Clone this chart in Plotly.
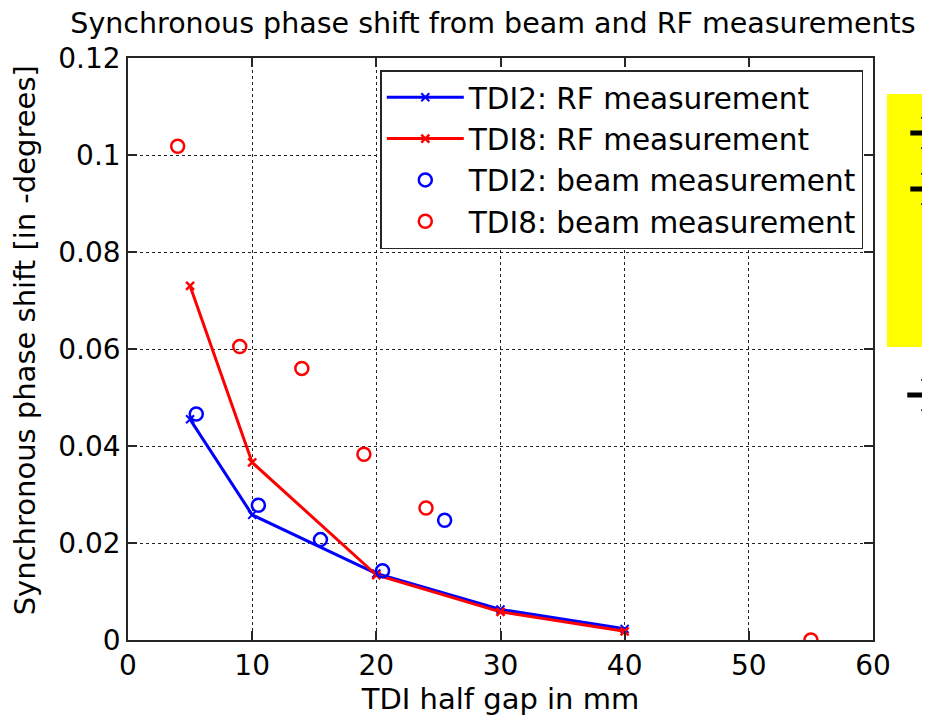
import plotly.graph_objects as go

# Data
rf_gap = [5, 10, 20, 30, 40]
tdi2_rf = [0.0455, 0.0258, 0.0137, 0.0063, 0.0023]
tdi8_rf = [0.0730, 0.0366, 0.0134, 0.0058, 0.0018]

tdi2_beam_gap = [5.5, 10.5, 15.5, 20.5, 25.5]
tdi2_beam = [0.0466, 0.0278, 0.0207, 0.0143, 0.0247]

tdi8_beam_gap = [4, 9, 14, 19, 24, 55]
tdi8_beam = [0.1018, 0.0605, 0.0560, 0.0383, 0.0272, 0.0]

x_ticks = [0, 10, 20, 30, 40, 50, 60]
y_ticks = [0, 0.02, 0.04, 0.06, 0.08, 0.1, 0.12]
y_ticklabels = ["0", "0.02", "0.04", "0.06", "0.08", "0.1", "0.12"]

FONT = "DejaVu Sans, sans-serif"
OFF = 8  # page body margin in the browser
W, H = 930 - OFF, 718 - OFF
L, R, T, B = 127.7 - OFF, 872.7 - OFF, 58 - OFF, 640 - OFF


def px(x):
    # screen pixel -> paper fraction
    return (x - OFF - L) / (R - L)


def py(y):
    return (B - (y - OFF)) / (B - T)


fig = go.Figure()
fig.add_trace(go.Scatter(x=rf_gap, y=tdi2_rf, mode="lines+markers",
                         name="TDI2: RF measurement",
                         line=dict(color="#0000ff", width=3),
                         marker=dict(symbol="x-thin", size=8, line=dict(color="#0000ff", width=2))))
fig.add_trace(go.Scatter(x=rf_gap, y=tdi8_rf, mode="lines+markers",
                         name="TDI8: RF measurement",
                         line=dict(color="#ff0000", width=3),
                         marker=dict(symbol="x-thin", size=8, line=dict(color="#ff0000", width=2.5))))
fig.add_trace(go.Scatter(x=tdi2_beam_gap, y=tdi2_beam, mode="markers",
                         name="TDI2: beam measurement",
                         marker=dict(symbol="circle-open", size=13, color="#0000ff", line=dict(width=2.5))))
fig.add_trace(go.Scatter(x=tdi8_beam_gap, y=tdi8_beam, mode="markers",
                         name="TDI8: beam measurement",
                         marker=dict(symbol="circle-open", size=13, color="#ff0000", line=dict(width=2.5))))

axis_common = dict(showline=True, linecolor="#262626", linewidth=1.5, mirror="ticks",
                   ticks="inside", ticklen=9, tickcolor="#262626", tickwidth=1.5,
                   showgrid=True, gridcolor="#222222", griddash="dot", gridwidth=1,
                   zeroline=False, tickfont=dict(size=28, color="black", family=FONT))

fig.update_xaxes(range=[0, 60], tickvals=x_ticks,
                 title=dict(text="TDI half gap in mm", font=dict(size=29, color="black", family=FONT), standoff=4),
                 **axis_common)
fig.update_yaxes(range=[0, 0.12], tickvals=y_ticks, ticktext=y_ticklabels, **axis_common)

# y-axis title placed as a rotated annotation
fig.add_annotation(xref="paper", yref="paper", x=px(25), y=py(340),
                   text="Synchronous phase shift [in -degrees]", textangle=-90,
                   showarrow=False, xanchor="center", yanchor="middle",
                   font=dict(size=29, color="black", family=FONT))

# yellow note box partly outside the frame
fig.add_shape(type="rect", xref="paper", yref="paper",
              x0=px(886.7), x1=px(945), y0=py(347), y1=py(94),
              fillcolor="#ffff00", line=dict(width=0), layer="below")

# arrows (cropped at the right edge)
arrows = [(910, 133, 116, 150), (910, 189, 172, 206), (907, 395, 378, 412)]
for x0, yc, ytop, ybot in arrows:
    fig.add_shape(type="line", xref="paper", yref="paper",
                  x0=px(x0), x1=px(945), y0=py(yc), y1=py(yc),
                  line=dict(color="black", width=5))
    fig.add_shape(type="path", xref="paper", yref="paper",
                  path=f"M{px(922)},{py(ytop)} L{px(945)},{py(yc)} L{px(922)},{py(ybot)}",
                  line=dict(color="black", width=5))

fig.update_layout(
    width=W, height=H,
    margin=dict(l=L, r=W - R, t=T, b=H - B),
    paper_bgcolor="white", plot_bgcolor="white",
    font=dict(family=FONT, color="black"),
    title=dict(text="Synchronous phase shift from beam and RF measurements",
               x=(493 - OFF) / W, xanchor="center", y=1 - (23 - OFF) / H, yanchor="middle",
               font=dict(size=28.5, color="black", family=FONT)),
    showlegend=True,
    legend=dict(x=px(380), y=py(70), xanchor="left", yanchor="top",
                bgcolor="white", bordercolor="#262626", borderwidth=1.5,
                font=dict(size=29.5, color="black", family=FONT),
                itemwidth=77, tracegroupgap=0),
)

fig.write_html("out.html")
